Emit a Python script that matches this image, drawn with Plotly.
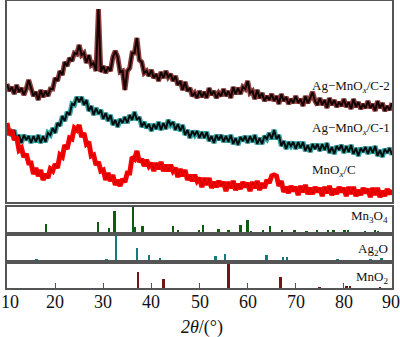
import numpy as np
import plotly.graph_objects as go

# ---------------- data ----------------
two_theta = np.round(np.arange(10, 90.001, 0.5), 1)

ag_mnox_c2 = [116,109,113,106,115,108,112,105,111,120,
              112,104,108,100,110,103,109,104,111,111,
              122,119,129,125,138,134,142,139,147,146,
              155,145,147,137,145,135,137,129,191,128,
              134,127,133,129,143,149,143,128,129,110,
              129,132,147,147,162,140,138,127,129,124,
              130,122,126,119,128,122,129,123,126,119,
              124,115,119,110,118,109,112,104,107,102,
              109,103,108,102,112,105,109,102,107,104,
              111,104,109,102,113,106,112,106,113,111,
              119,107,109,101,110,102,107,99,104,100,
              106,99,104,96,106,99,103,96,101,97,
              104,97,101,94,104,97,102,108,99,95,
              102,95,100,92,102,95,100,93,98,94,
              101,93,98,91,101,93,98,91,96,92,
              99,92,96,89,99,92,97,89,94,90,97]

ag_mnox_c1 = [65,71,64,70,60,65,57,65,60,64,
              57,64,58,65,57,64,58,67,65,72,
              67,77,74,84,79,88,85,96,95,103,
              98,103,95,100,89,94,85,92,86,90,
              81,87,79,85,75,80,73,81,77,83,
              77,85,80,88,80,83,73,78,72,76,
              69,76,71,78,70,77,71,80,75,78,
              70,76,69,75,65,70,62,69,65,69,
              62,68,62,68,59,64,57,65,60,65,
              58,64,58,65,56,62,55,63,59,64,
              57,64,58,65,56,62,56,64,61,67,
              61,70,61,65,54,59,51,58,54,58,
              51,58,52,58,49,55,48,56,51,56,
              49,56,50,57,47,53,46,54,50,55,
              47,54,48,55,46,52,44,52,48,53,
              46,53,47,54,44,50,43,51,47,52,45]

mnox_c = [77,65,70,60,63,50,52,43,46,37,
          37,26,32,24,30,20,26,22,31,29,
          36,32,45,43,55,51,62,61,72,70,
          75,63,67,56,58,44,45,35,38,29,
          30,20,27,19,25,15,20,14,21,18,
          27,27,43,41,49,38,41,34,40,34,
          37,29,37,31,38,29,35,29,35,29,
          32,23,31,24,30,20,25,19,25,19,
          22,13,22,15,22,12,18,13,19,14,
          18,9,18,12,19,10,16,11,18,13,
          17,9,18,12,19,10,17,12,20,17,
          24,25,24,14,19,8,13,7,14,9,
          13,5,14,8,15,6,12,6,13,8,
          12,4,13,7,14,5,11,6,13,8,
          12,4,13,6,13,4,10,5,12,7,
          11,3,12,5,12,3,9,4,11,6,10]

mn3o4_pos = [18.1, 29.0, 31.2, 32.4, 36.2, 36.6, 38.2, 44.6, 45.6, 49.9,
             50.8, 54.0, 56.1, 58.6, 60.0, 60.8, 63.2, 64.7, 67.2, 69.8,
             72.3, 74.4, 76.8, 77.9, 80.2, 80.9, 84.4, 86.5, 87.2]
mn3o4_int = [0.32, 0.41, 0.18, 0.85, 1.0, 0.2, 0.23, 0.23, 0.05, 0.1,
             0.27, 0.12, 0.1, 0.27, 0.5, 0.04, 0.05, 0.23, 0.05, 0.06,
             0.04, 0.1, 0.08, 0.08, 0.06, 0.05, 0.04, 0.05, 0.04]

ag2o_pos = [16.2, 30.7, 32.7, 37.0, 39.6, 41.9, 53.4, 55.3, 64.0, 67.4, 68.3, 78.7, 85.6, 87.9]
ag2o_int = [0.03, 0.03, 1.0, 0.5, 0.21, 0.05, 0.15, 0.27, 0.2, 0.12, 0.12, 0.04, 0.04, 0.05]

mno2_pos = [37.3, 42.6, 56.1, 66.9, 75.0, 80.6, 81.3, 87.5]
mno2_int = [0.67, 0.37, 1.0, 0.45, 0.03, 0.1, 0.05, 0.03]

x_ticks = [10, 20, 30, 40, 50, 60, 70, 80, 90]
trace_labels = ["Ag\u2212MnO<sub><i>x</i></sub>/C-2", "Ag\u2212MnO<sub><i>x</i></sub>/C-1", "MnO<sub><i>x</i></sub>/C"]
ref_labels = ["Mn<sub>3</sub>O<sub>4</sub>", "Ag<sub>2</sub>O", "MnO<sub>2</sub>"]
x_title = "<i>2\u03b8</i>/(\u00b0)"

# ---------------- figure ----------------
FONT = "Liberation Serif, Times New Roman, serif"
W, H = 400, 337
def py(p):
    return 1 - p / H

fig = go.Figure()

# XRD patterns (colored halo + dark core)
for ys, halo, core, hw, cw in [
    (ag_mnox_c2, "#8a3a3a", "#140303", 5.0, 2.0),
    (ag_mnox_c1, "#35a3a3", "#040c0c", 5.0, 2.0),
    (mnox_c, "#ff0000", "#d40000", 5.0, 1.2),
]:
    fig.add_trace(go.Scatter(x=two_theta, y=ys, mode="lines",
                             line=dict(color=halo, width=hw), xaxis="x", yaxis="y",
                             showlegend=False, hoverinfo="skip"))
    fig.add_trace(go.Scatter(x=two_theta, y=ys, mode="lines",
                             line=dict(color=core, width=cw), xaxis="x", yaxis="y",
                             showlegend=False, hoverinfo="skip"))

# reference stick patterns
for pos, inten, col, ax in [
    (mn3o4_pos, mn3o4_int, "#0d5c12", "2"),
    (ag2o_pos, ag2o_int, "#16797f", "3"),
    (mno2_pos, mno2_int, "#741515", "4"),
]:
    fig.add_trace(go.Bar(x=pos, y=inten, width=0.38, marker=dict(color=col, line=dict(width=0)),
                         xaxis="x" + ax, yaxis="y" + ax, showlegend=False, hoverinfo="skip"))

border = dict(showline=True, mirror=True, linecolor="#555555", linewidth=1.6,
              showgrid=False, zeroline=False)
xd = [7 / W, 392 / W]
xcommon = dict(range=[10, 90], domain=xd, **border)

fig.update_layout(
    width=W, height=H, margin=dict(l=0, r=0, t=0, b=0),
    paper_bgcolor="white", plot_bgcolor="white",
    font=dict(family=FONT, color="#111111"),
    bargap=0,
    xaxis=dict(anchor="y", showticklabels=False, ticks="", **xcommon),
    yaxis=dict(anchor="x", domain=[py(202), py(1)], range=[-2, 199],
               showticklabels=False, ticks="", **border),
    xaxis2=dict(anchor="y2", showticklabels=False, ticks="", **xcommon),
    yaxis2=dict(anchor="x2", domain=[py(232), py(207)], range=[0, 1.0],
                showticklabels=False, ticks="", **border),
    xaxis3=dict(anchor="y3", showticklabels=False, ticks="", **xcommon),
    yaxis3=dict(anchor="x3", domain=[py(260), py(236)], range=[0, 1.0],
                showticklabels=False, ticks="", **border),
    xaxis4=dict(anchor="y4", showticklabels=False, tickvals=x_ticks,
                ticks="inside", ticklen=5, tickwidth=1, tickcolor="#555555", **xcommon),
    yaxis4=dict(anchor="x4", domain=[py(288), py(264)], range=[0, 1.0],
                showticklabels=False, ticks="", **border),
)

annots = []
for v in x_ticks:
    annots.append(dict(text=str(v), x=v, y=py(302), xref="x4", yref="paper",
                       xanchor="center", yanchor="middle", showarrow=False,
                       xshift=3 if v == x_ticks[0] else (-1 if v == x_ticks[-1] else 0),
                       font=dict(family=FONT, size=18, color="#111111")))
for txt, p in zip(trace_labels, [87, 128, 170]):
    annots.append(dict(text=txt, x=310 / W, y=py(p), xref="paper", yref="paper",
                       xanchor="left", yanchor="middle", showarrow=False,
                       font=dict(family=FONT, size=13, color="#111111")))
for txt, p in zip(ref_labels, [216, 249, 277]):
    annots.append(dict(text=txt, x=390 / W, y=py(p), xref="paper", yref="paper",
                       xanchor="right", yanchor="middle", showarrow=False,
                       font=dict(family=FONT, size=13, color="#111111")))
annots.append(dict(text=x_title, x=202 / W, y=py(327), xref="paper", yref="paper",
                   xanchor="center", yanchor="middle", showarrow=False,
                   font=dict(family=FONT, size=18, color="#111111")))
fig.update_layout(annotations=annots)

fig.write_html("out.html")
